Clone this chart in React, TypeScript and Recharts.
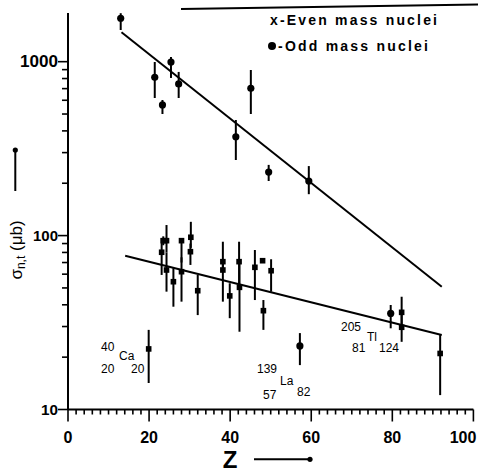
import React from 'react';
import { ScatterChart, Scatter, XAxis, YAxis, ErrorBar } from 'recharts';

// Odd mass nuclei (filled circles): Z, cross section (µb), error bar low/high
const oddZ = [13.0, 21.4, 23.3, 25.4, 27.3, 45.1, 41.4, 49.5, 59.4, 57.2, 79.6];
const oddVal = [1777, 813, 564, 996, 745, 703, 370, 232, 206, 23.2, 35.7];
const oddLow = [1521, 618, 500, 806, 618, 500, 272, 206, 173, 18.0, 29.3];
const oddHigh = [1900, 996, 602, 1064, 873, 896, 462, 255, 251, 27.5, 39.9];

// Even mass nuclei (x marks)
const evenZ = [19.9, 23.1, 23.5, 24.3, 24.3, 26.0, 28.0, 28.0, 30.3, 30.2, 32.0, 38.2, 38.2, 39.9, 42.2, 42.3, 46.1, 48.0, 48.2, 50.1, 82.3, 82.3, 91.8];
const evenVal = [22.3, 80.2, 93.5, 93.5, 63.4, 54.3, 93.5, 62.0, 97.8, 80.8, 48.2, 70.8, 63.4, 45.0, 70.8, 50.4, 65.7, 71.7, 37.0, 62.8, 36.2, 29.7, 21.0];
const evenLow = [14.2, 59.4, 88, 80, 47.6, 39.0, 70, 41.7, 85, 67.8, 34.9, 63.4, 41.7, 33.5, 50, 28.0, 42.6, 71.7, 28.7, 47.6, 29.7, 24.5, 12.1];
const evenHigh = [28.7, 96.9, 99, 115, 80, 64.9, 96.5, 75, 120, 90, 59.4, 92.2, 70.8, 53.2, 92.2, 70, 82.6, 71.7, 42.6, 73.1, 44.5, 36.2, 26.8];

// fitted lines (end points)
const oddFitZ = [13.2, 92.2];
const oddFitVal = [1476, 50.8];
const evenFitZ = [14.1, 92.2];
const evenFitVal = [76.6, 26.8];

const xMajorTicks = [0, 20, 40, 60, 80, 100];
const xTicks = Array.from({ length: 51 }, (_, i) => i * 2);
const yMajorTicks = [10, 100, 1000];
const yTicks = [10, 20, 30, 40, 50, 60, 70, 80, 90, 100, 200, 300, 400, 500, 600, 700, 800, 900, 1000];

const build = (z: number[], v: number[], lo: number[], hi: number[]) =>
  z.map((zz, i) => ({ z: zz, v: v[i], err: [v[i] - lo[i], hi[i] - v[i]] }));

const oddData = build(oddZ, oddVal, oddLow, oddHigh);
const evenData = build(evenZ, evenVal, evenLow, evenHigh);
const oddFit = oddFitZ.map((z, i) => ({ z, v: oddFitVal[i] }));
const evenFit = evenFitZ.map((z, i) => ({ z, v: evenFitVal[i] }));

const FONT = '"Liberation Sans", Arial, sans-serif';

const XTick = (props: any) => {
  const { x, y, payload } = props;
  const major = xMajorTicks.includes(payload.value);
  // keep the last label inside the page
  const lx = Math.min(x, 477 - 14);
  return (
    <g>
      <line x1={x} x2={x} y1={y} y2={y + (major ? 12 : 5)} stroke="#000" strokeWidth={1.6} />
      {major && (
        <text x={lx} y={y + 33} textAnchor="middle" fontFamily={FONT} fontWeight="bold" fontSize={16} fill="#000">
          {payload.value}
        </text>
      )}
    </g>
  );
};

const yLabelStyle: Record<number, { size: number; len: number }> = {
  10: { size: 14, len: 17 },
  100: { size: 15, len: 25 },
  1000: { size: 16, len: 38 },
};

const YTick = (props: any) => {
  const { x, y, payload } = props;
  const major = yMajorTicks.includes(payload.value);
  const st = yLabelStyle[payload.value];
  return (
    <g>
      <line x1={x - (major ? 10 : 6)} x2={x} y1={y} y2={y} stroke="#000" strokeWidth={1.6} />
      {major && (
        <text x={x - 10} y={y + 5} textAnchor="end" fontFamily={FONT} fontWeight="bold" fontSize={st.size}
          textLength={st.len} lengthAdjust="spacingAndGlyphs" fill="#000">
          {payload.value}
        </text>
      )}
    </g>
  );
};

const Circle = (p: any) => <circle cx={p.cx} cy={p.cy} r={3.6} fill="#000" />;
const Square = (p: any) => <rect x={p.cx - 2.8} y={p.cy - 2.8} width={5.6} height={5.6} fill="#000" />;
const Nothing = () => <g />;

const note = { fontFamily: FONT, fontSize: 12, fill: '#000' };

export default function App() {
  return (
    <div style={{ position: 'absolute', left: 0, top: 0, width: 478, height: 472, background: '#fff' }}>
      <ScatterChart width={478} height={472} margin={{ top: 13, right: 4.6, bottom: 0, left: 0 }}>
        <XAxis
          type="number"
          dataKey="z"
          domain={[0, 100]}
          ticks={xTicks}
          interval={0}
          height={62.5}
          tickSize={0}
          tickMargin={0}
          tickLine={false}
          tick={<XTick />}
          axisLine={{ stroke: '#000', strokeWidth: 2 }}
          allowDataOverflow
        />
        <YAxis
          type="number"
          dataKey="v"
          scale="log"
          domain={[10, 1905]}
          ticks={yTicks}
          interval={0}
          width={68}
          tickSize={0}
          tickMargin={0}
          tickLine={false}
          tick={<YTick />}
          axisLine={{ stroke: '#000', strokeWidth: 2 }}
          allowDataOverflow
        />
        <Scatter data={oddFit} line={{ stroke: '#000', strokeWidth: 2 }} shape={<Nothing />} isAnimationActive={false} />
        <Scatter data={evenFit} line={{ stroke: '#000', strokeWidth: 2 }} shape={<Nothing />} isAnimationActive={false} />
        <Scatter data={oddData} shape={<Circle />} isAnimationActive={false}>
          <ErrorBar dataKey="err" direction="y" width={0} stroke="#000" strokeWidth={2} isAnimationActive={false} />
        </Scatter>
        <Scatter data={evenData} shape={<Square />} isAnimationActive={false}>
          <ErrorBar dataKey="err" direction="y" width={0} stroke="#000" strokeWidth={2} isAnimationActive={false} />
        </Scatter>
      </ScatterChart>
      <svg width={478} height={472} style={{ position: 'absolute', left: 0, top: 0, pointerEvents: 'none' }}>
        <line x1={181} y1={9} x2={478} y2={4.5} stroke="#000" strokeWidth={2} />
        <text x={270} y={25} fontFamily={FONT} fontWeight="bold" fontSize={14} textLength={167} lengthAdjust="spacing" fill="#000">
          x-Even mass nuclei
        </text>
        <circle cx={272} cy={46} r={4} fill="#000" />
        <text x={278} y={51} fontFamily={FONT} fontWeight="bold" fontSize={14} textLength={150} lengthAdjust="spacing" fill="#000">
          -Odd mass nuclei
        </text>

        <text x={101} y={351} {...note}>40</text>
        <text x={119} y={360} {...note}>Ca</text>
        <text x={101} y={373} {...note}>20</text>
        <text x={131} y={373} {...note}>20</text>

        <text x={257} y={373} {...note}>139</text>
        <text x={280} y={385} {...note}>La</text>
        <text x={263} y={399} {...note}>57</text>
        <text x={297} y={396} {...note}>82</text>

        <text x={341} y={331} {...note}>205</text>
        <text x={367} y={341} {...note}>Tl</text>
        <text x={352} y={352} {...note}>81</text>
        <text x={379} y={352} {...note}>124</text>

        <text x={230} y={468} textAnchor="middle" fontFamily={FONT} fontWeight="bold" fontSize={24} fill="#000">Z</text>
        <line x1={254} y1={459.3} x2={309} y2={459.3} stroke="#000" strokeWidth={2} />
        <circle cx={310} cy={459.3} r={2.6} fill="#000" />

        <g transform="translate(22,250) rotate(-90)">
          <text x={0} y={0} textAnchor="middle" fontFamily={FONT} fontSize={17} fill="#000">
            σ<tspan fontSize={12} dy={3}>n,t</tspan>
            <tspan dy={-3}> (μb)</tspan>
          </text>
        </g>
        <line x1={15.3} y1={152} x2={15.3} y2={191} stroke="#000" strokeWidth={2} />
        <circle cx={15.3} cy={150} r={2.6} fill="#000" />
      </svg>
    </div>
  );
}
